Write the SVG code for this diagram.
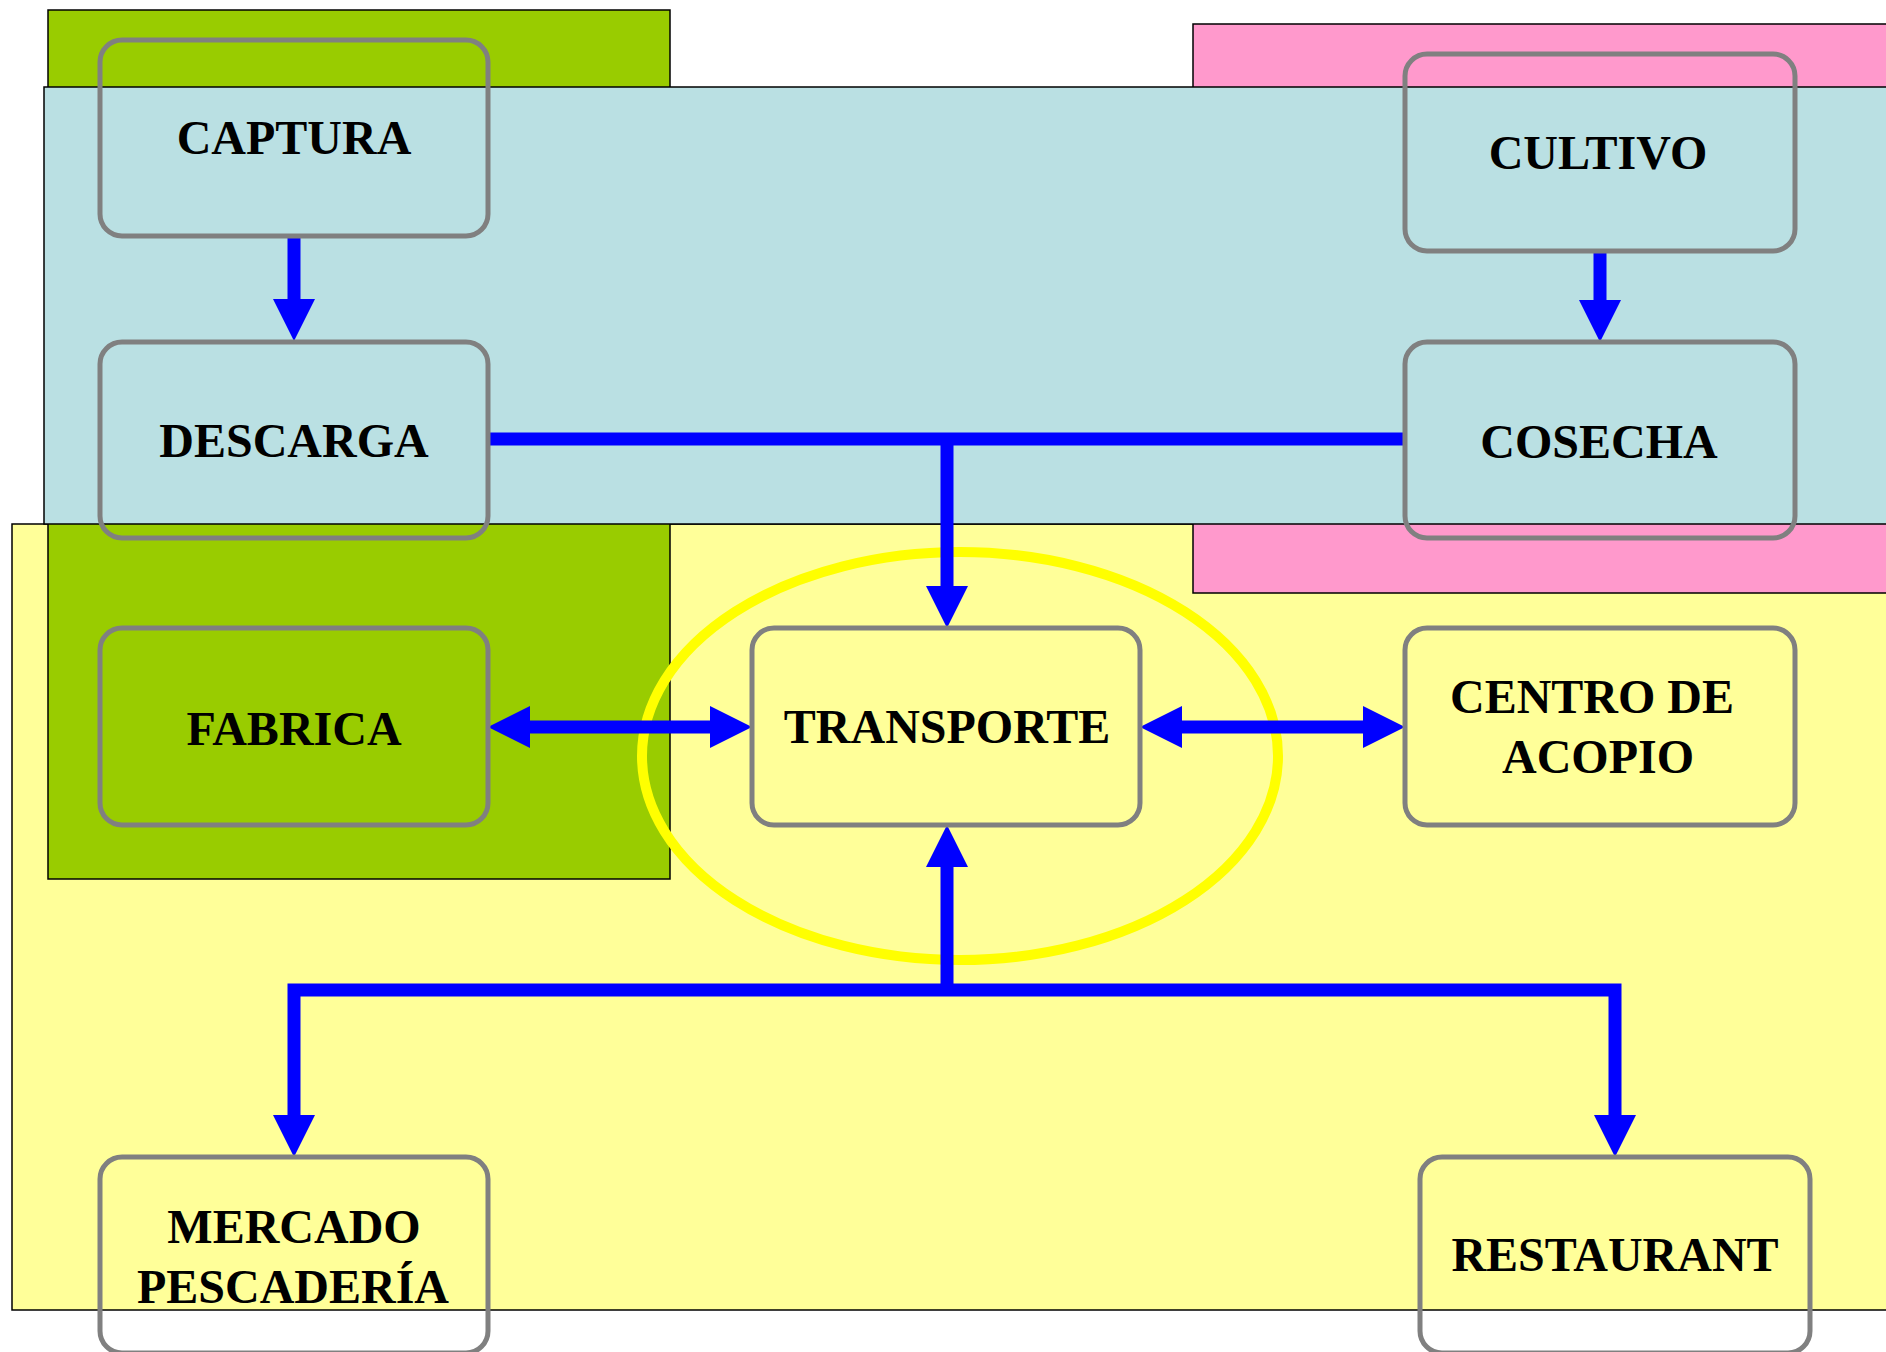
<svg xmlns="http://www.w3.org/2000/svg" width="1886" height="1352" viewBox="0 0 1886 1352">
<defs>
<style>
.zone{stroke:#000000;stroke-width:1.5}
.node{fill:none;stroke:#808080;stroke-width:5}
.lbl{font-family:"Liberation Serif","Times New Roman",serif;font-weight:bold;font-size:48px;fill:#000000;text-anchor:middle}
.conn{fill:none;stroke:#0000ff;stroke-width:13;stroke-linejoin:miter}
</style>
<marker id="ah" markerUnits="userSpaceOnUse" markerWidth="42" markerHeight="42" refX="0" refY="21" orient="auto-start-reverse" viewBox="0 0 42 42">
<path d="M0,0 L42,21 L0,42 z" fill="#0000ff"/>
</marker>
</defs>
<rect width="1886" height="1352" fill="#ffffff"/>
<g id="zones">
<rect class="zone" x="12" y="524" width="1890" height="786" fill="#ffff99"/>
<rect class="zone" x="48" y="10" width="622" height="869" fill="#99cc00"/>
<rect class="zone" x="1193" y="24" width="710" height="569" fill="#ff99cc"/>
<rect class="zone" x="44" y="87" width="1860" height="437" fill="#bae0e3"/>
<ellipse cx="960" cy="756" rx="318" ry="204" fill="none" stroke="#ffff00" stroke-width="10"/>
</g>
<g id="connectors">
<line class="conn" x1="294" y1="236" x2="294" y2="299" marker-end="url(#ah)"/>
<line class="conn" x1="1600" y1="251" x2="1600" y2="300" marker-end="url(#ah)"/>
<line class="conn" x1="488" y1="439" x2="1405" y2="439"/>
<line class="conn" x1="947" y1="439" x2="947" y2="586" marker-end="url(#ah)"/>
<line class="conn" x1="530" y1="727" x2="710" y2="727" marker-start="url(#ah)" marker-end="url(#ah)"/>
<line class="conn" x1="1182" y1="727" x2="1363" y2="727" marker-start="url(#ah)" marker-end="url(#ah)"/>
<line class="conn" x1="947" y1="990" x2="947" y2="867" marker-end="url(#ah)"/>
<path class="conn" d="M294,1115 L294,990 L1615,990 L1615,1115" marker-start="url(#ah)" marker-end="url(#ah)"/>
</g>
<g id="captura"><rect class="node" x="100" y="40" width="388" height="196" rx="22"/><text class="lbl" x="294" y="154">CAPTURA</text></g>
<g id="descarga"><rect class="node" x="100" y="342" width="388" height="196" rx="22"/><text class="lbl" x="294" y="457">DESCARGA</text></g>
<g id="cultivo"><rect class="node" x="1405" y="54" width="390" height="197" rx="22"/><text class="lbl" x="1598" y="169">CULTIVO</text></g>
<g id="cosecha"><rect class="node" x="1405" y="342" width="390" height="196" rx="22"/><text class="lbl" x="1599" y="458">COSECHA</text></g>
<g id="fabrica"><rect class="node" x="100" y="628" width="388" height="197" rx="22"/><text class="lbl" x="294" y="745">FABRICA</text></g>
<g id="transporte"><rect class="node" x="752" y="628" width="388" height="197" rx="22"/><text class="lbl" x="947" y="743">TRANSPORTE</text></g>
<g id="centro"><rect class="node" x="1405" y="628" width="390" height="197" rx="22"/><text class="lbl" x="1592" y="713">CENTRO DE</text><text class="lbl" x="1598" y="773">ACOPIO</text></g>
<g id="mercado"><rect class="node" x="100" y="1157" width="388" height="196" rx="22"/><text class="lbl" x="294" y="1243">MERCADO</text><text class="lbl" x="293" y="1303">PESCADERÍA</text></g>
<g id="restaurant"><rect class="node" x="1420" y="1157" width="390" height="196" rx="22"/><text class="lbl" x="1615" y="1271">RESTAURANT</text></g>
</svg>
